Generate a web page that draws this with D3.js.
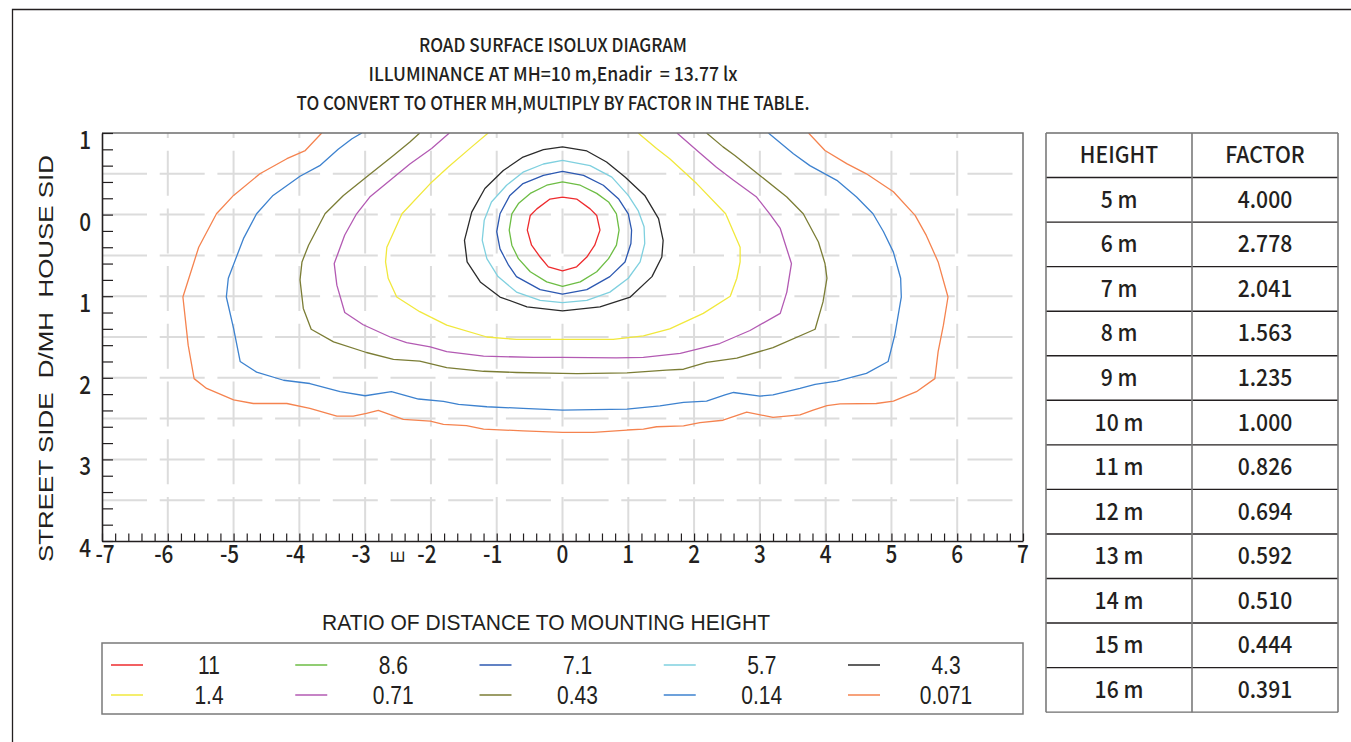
<!DOCTYPE html>
<html lang="en">
<head>
  <meta charset="utf-8">
  <title>Road surface isolux diagram</title>
  <script src="https://cdn.jsdelivr.net/npm/d3@7"></script>
  <style>
    body { margin: 0; background: #fff; }
    svg { display: block; }
    text { white-space: pre; }
    .cjk { font-family: "Noto Sans CJK SC", "Noto Sans", sans-serif; font-weight: 500; fill: #231f20; }
    .arial { font-family: "Liberation Sans", Arial, sans-serif; fill: #231f20; }
  </style>
</head>
<body>
  <svg id="chart" width="1351" height="742"></svg>

  <script>
    // title lines
    const titleLines = [
      "ROAD SURFACE ISOLUX DIAGRAM",
      "ILLUMINANCE AT MH=10 m,Enadir  = 13.77 lx",
      "TO CONVERT TO OTHER MH,MULTIPLY BY FACTOR IN THE TABLE."
    ]

    // axis ticks (D/MH)
    const xTicks = [-7, -6, -5, -4, -3, -2, -1, 0, 1, 2, 3, 4, 5, 6, 7]
    const yTicks = [-1, 0, 1, 2, 3, 4]

    // isolux levels, in legend order
    const levels = ["11", "8.6", "7.1", "5.7", "4.3", "1.4", "0.71", "0.43", "0.14", "0.071"]
    const levelColors = ["#ee2b2e", "#6dbd44", "#2c58b1", "#7fd0df", "#2b2b2b",
                         "#f1e83c", "#b35ab3", "#7b7d35", "#3d82cf", "#f5834f"]

    // contour points [x D/MH, y D/MH]
    const contour11 = [[0,-0.215],[-0.19,-0.19],[-0.39,-0.07],[-0.49,0.01],[-0.535,0.19],[-0.47,0.375],[-0.34,0.52],[-0.215,0.64],[0,0.69],[0.215,0.64],[0.37,0.52],[0.49,0.375],[0.57,0.19],[0.52,0.01],[0.42,-0.07],[0.215,-0.19]]
    const contour86 = [[0,-0.40],[-0.24,-0.36],[-0.49,-0.26],[-0.67,-0.135],[-0.77,-0.01],[-0.81,0.19],[-0.77,0.375],[-0.67,0.54],[-0.49,0.70],[-0.24,0.825],[0,0.88],[0.27,0.825],[0.52,0.70],[0.70,0.54],[0.82,0.375],[0.86,0.19],[0.82,-0.01],[0.70,-0.155],[0.52,-0.26],[0.27,-0.36]]
    const contour71 = [[0,-0.53],[-0.29,-0.48],[-0.60,-0.38],[-0.80,-0.235],[-0.95,-0.01],[-1.0,0.21],[-0.95,0.42],[-0.82,0.62],[-0.70,0.76],[-0.34,0.92],[0,0.975],[0.37,0.92],[0.72,0.76],[0.95,0.58],[1.04,0.355],[1.05,0.19],[1.0,-0.01],[0.85,-0.195],[0.62,-0.36],[0.32,-0.48]]
    const contour57 = [[0,-0.665],[-0.29,-0.62],[-0.60,-0.52],[-0.85,-0.36],[-1.08,-0.155],[-1.19,0.07],[-1.22,0.315],[-1.15,0.54],[-0.98,0.76],[-0.70,0.95],[-0.34,1.05],[0,1.08],[0.37,1.05],[0.72,0.95],[1.0,0.78],[1.18,0.58],[1.25,0.355],[1.24,0.15],[1.15,-0.05],[1.0,-0.235],[0.75,-0.46],[0.42,-0.60]]
    const contour43 = [[0,-0.83],[-0.29,-0.795],[-0.60,-0.705],[-0.90,-0.54],[-1.18,-0.32],[-1.38,-0.03],[-1.49,0.315],[-1.45,0.58],[-1.25,0.825],[-0.95,1.01],[-0.54,1.13],[0,1.18],[0.57,1.13],[1.03,1.01],[1.36,0.76],[1.51,0.52],[1.53,0.315],[1.46,0.05],[1.25,-0.235],[0.95,-0.46],[0.67,-0.645],[0.37,-0.78]]
    const contour14 = [[-1.13,-1.0],[-1.38,-0.83],[-1.74,-0.58],[-2.01,-0.38],[-2.44,-0.01],[-2.67,0.40],[-2.69,0.58],[-2.65,0.78],[-2.52,1.01],[-2.17,1.19],[-1.76,1.355],[-1.15,1.50],[-0.70,1.53],[0,1.53],[0.77,1.53],[1.23,1.485],[1.63,1.40],[2.14,1.21],[2.55,1.0],[2.65,0.78],[2.70,0.58],[2.70,0.40],[2.48,-0.01],[2.04,-0.38],[1.63,-0.685],[1.43,-0.81],[1.15,-1.0]]
    const contour071 = [[-1.72,-1.0],[-1.99,-0.81],[-2.32,-0.62],[-2.62,-0.42],[-2.93,-0.215],[-3.13,-0.01],[-3.31,0.25],[-3.47,0.60],[-3.43,0.865],[-3.31,1.20],[-3.03,1.35],[-2.62,1.50],[-2.37,1.57],[-2.01,1.62],[-1.76,1.68],[-1.20,1.735],[-0.44,1.75],[0,1.75],[0.82,1.755],[1.23,1.75],[1.79,1.70],[2.39,1.58],[2.85,1.42],[3.31,1.21],[3.41,0.95],[3.48,0.60],[3.31,0.17],[3.15,-0.01],[2.95,-0.215],[2.60,-0.42],[2.34,-0.58],[2.04,-0.79],[1.74,-1.0]]
    const contour043 = [[-2.17,-1.0],[-2.32,-0.89],[-2.57,-0.725],[-2.98,-0.46],[-3.33,-0.235],[-3.61,-0.01],[-3.86,0.375],[-3.96,0.58],[-3.99,0.80],[-3.94,1.15],[-3.82,1.405],[-3.48,1.56],[-2.98,1.69],[-2.57,1.775],[-2.17,1.795],[-1.76,1.875],[-1.20,1.92],[-0.70,1.935],[0,1.945],[0.22,1.95],[0.98,1.94],[1.58,1.905],[1.84,1.895],[2.19,1.81],[2.65,1.76],[3.20,1.63],[3.84,1.405],[3.96,1.07],[4.02,0.78],[3.99,0.60],[3.89,0.335],[3.66,-0.01],[3.41,-0.215],[3.0,-0.48],[2.62,-0.725],[2.44,-0.83],[2.19,-1.0]]
    const contour014 = [[-3.05,-1.0],[-3.20,-0.93],[-3.41,-0.80],[-3.69,-0.60],[-3.99,-0.47],[-4.40,-0.235],[-4.65,-0.01],[-4.85,0.295],[-5.08,0.78],[-5.11,1.01],[-5.0,1.395],[-4.90,1.80],[-4.65,1.93],[-4.24,2.03],[-3.84,2.07],[-3.38,2.17],[-3.0,2.22],[-2.60,2.17],[-2.19,2.26],[-1.81,2.29],[-1.58,2.325],[-1.15,2.355],[-0.60,2.375],[0,2.395],[0.47,2.39],[0.98,2.385],[1.48,2.345],[1.84,2.30],[2.19,2.285],[2.47,2.21],[2.60,2.18],[3.0,2.225],[3.20,2.21],[3.61,2.13],[3.84,2.08],[4.17,2.04],[4.62,1.945],[4.95,1.80],[5.05,1.48],[5.15,1.01],[5.14,0.78],[5.03,0.46],[4.88,0.21],[4.72,-0.01],[4.47,-0.215],[4.17,-0.42],[3.76,-0.60],[3.51,-0.745],[3.13,-1.0]]
    const contour0071 = [[-3.66,-1.0],[-3.91,-0.785],[-4.19,-0.685],[-4.60,-0.50],[-5.0,-0.235],[-5.26,-0.01],[-5.53,0.40],[-5.77,1.01],[-5.69,1.60],[-5.60,2.01],[-5.41,2.13],[-5.0,2.27],[-4.70,2.315],[-4.19,2.315],[-3.84,2.375],[-3.43,2.47],[-3.18,2.47],[-2.98,2.435],[-2.80,2.40],[-2.62,2.45],[-2.42,2.51],[-2.01,2.53],[-1.81,2.57],[-1.46,2.585],[-1.20,2.63],[-0.60,2.65],[0,2.67],[0.47,2.67],[0.98,2.64],[1.23,2.63],[1.43,2.60],[1.84,2.59],[2.09,2.55],[2.44,2.52],[2.80,2.42],[3.20,2.485],[3.61,2.455],[3.81,2.395],[4.02,2.34],[4.22,2.32],[4.77,2.315],[5.03,2.285],[5.38,2.17],[5.66,2.01],[5.71,1.68],[5.79,1.355],[5.86,1.01],[5.71,0.58],[5.53,0.255],[5.36,0.01],[5.03,-0.28],[4.62,-0.50],[4.32,-0.625],[3.99,-0.785],[3.74,-1.0]]

    const contours = [contour11, contour86, contour71, contour57, contour43,
                      contour14, contour071, contour043, contour014, contour0071]
    const closedContour = [true, true, true, true, true, false, false, false, false, false]

    // conversion table
    const heights = ["5 m", "6 m", "7 m", "8 m", "9 m", "10 m", "11 m", "12 m", "13 m", "14 m", "15 m", "16 m"]
    const factors = ["4.000", "2.778", "2.041", "1.563", "1.235", "1.000", "0.826", "0.694", "0.592", "0.510", "0.444", "0.391"]

    const svg = d3.select("#chart")
    const plot = { left: 102, right: 1023, top: 133, bottom: 541 }

    const x = d3.scaleLinear().domain([-7, 7]).range([plot.left, plot.right])
    const y = d3.scaleLinear().domain([-1, 4]).range([plot.top, plot.bottom])

    // squeezed text helper (the original font is a condensed one)
    const squeezed = function (parent, px, py, str, opts) {
      const o = Object.assign({ size: 24, sx: 0.85, anchor: "middle", cls: "cjk" }, opts)
      return parent.append("g")
        .attr("transform", `translate(${px},${py})`)
        .append("text")
        .attr("class", o.cls)
        .attr("transform", `scale(${o.sx},1)`)
        .attr("text-anchor", o.anchor)
        .attr("font-size", o.size)
        .text(str)
    }

    // page frame
    svg.append("path")
      .attr("d", "M12.5,742 V9.5 H1351")
      .attr("fill", "none").attr("stroke", "#231f20").attr("stroke-width", 1.3)

    // titles
    const titleWidths = [268, 369, 513]
    titleLines.forEach(function (t, i) {
      svg.append("text")
        .attr("class", "cjk")
        .attr("x", 553).attr("y", 52 + i * 29)
        .attr("text-anchor", "middle")
        .attr("font-size", 19)
        .attr("textLength", titleWidths[i])
        .attr("lengthAdjust", "spacingAndGlyphs")
        .text(t)
    })

    // grid
    const grid = svg.append("g")
    grid.selectAll(".vg")
      .data(d3.range(-6, 7))
      .join("line")
      .attr("x1", d => x(d)).attr("x2", d => x(d))
      .attr("y1", plot.top).attr("y2", plot.bottom)
      .attr("stroke", "#dcdcdc").attr("stroke-width", 2)
      .attr("stroke-dasharray", "45,12.7").attr("stroke-dashoffset", 40)
    grid.selectAll(".hg")
      .data(d3.range(-0.5, 4, 0.5))
      .join("line")
      .attr("x1", plot.left).attr("x2", plot.right)
      .attr("y1", d => y(d)).attr("y2", d => y(d))
      .attr("stroke", "#dcdcdc").attr("stroke-width", 2)
      .attr("stroke-dasharray", "45,12.7")

    // contours
    svg.append("clipPath").attr("id", "clip")
      .append("rect")
      .attr("x", plot.left).attr("y", plot.top)
      .attr("width", plot.right - plot.left).attr("height", plot.bottom - plot.top)

    const lineOpen = d3.line().x(d => x(d[0])).y(d => y(d[1]))
    const lineClosed = d3.line().x(d => x(d[0])).y(d => y(d[1])).curve(d3.curveLinearClosed)

    svg.append("g").attr("clip-path", "url(#clip)")
      .selectAll("path")
      .data(contours)
      .join("path")
      .attr("d", (d, i) => closedContour[i] ? lineClosed(d) : lineOpen(d))
      .attr("fill", "none")
      .attr("stroke", (d, i) => levelColors[i])
      .attr("stroke-width", 1.3)
      .attr("stroke-linejoin", "round")

    // plot frame: grey top/right, dark axes
    svg.append("path")
      .attr("d", `M${plot.left},${plot.top} H${plot.right} V${plot.bottom}`)
      .attr("fill", "none").attr("stroke", "#6e6e6e").attr("stroke-width", 1.5)

    const minorX = d3.range(-7, 7.001, 0.2).map(v => +v.toFixed(2))
    const minorY = d3.range(-1, 4.001, 0.2).map(v => +v.toFixed(2))

    svg.append("g")
      .attr("transform", `translate(0,${plot.bottom})`)
      .call(d3.axisBottom(x).tickValues(minorX).tickSize(-7.5).tickSizeOuter(0).tickFormat(""))
    svg.append("g")
      .attr("transform", `translate(${plot.left},0)`)
      .call(d3.axisLeft(y).tickValues(minorY).tickSize(-11).tickSizeOuter(0).tickFormat(""))
    svg.selectAll(".domain").attr("stroke", "#231f20").attr("stroke-width", 1.6)
    svg.selectAll(".tick line").attr("stroke", "#231f20").attr("stroke-width", 1.2)

    // tick labels
    xTicks.forEach(function (v) {
      let dx = v < 0 ? -4 : 0
      if (v === -7) dx = 3
      squeezed(svg, x(v) + dx, plot.bottom + 22, String(v), { size: 25, sx: 0.83 })
    })
    yTicks.forEach(function (v) {
      squeezed(svg, 91, y(v) + 16, String(Math.abs(v)), { size: 25, sx: 0.83, anchor: "end" })
    })

    // stray "E" mark under the x axis
    svg.append("text")
      .attr("class", "arial")
      .attr("transform", "translate(404,557) rotate(-90)")
      .attr("text-anchor", "middle")
      .attr("font-size", 19)
      .text("E")

    // y axis title
    svg.append("text")
      .attr("class", "arial")
      .attr("transform", "translate(53,562) rotate(-90)")
      .attr("font-size", 21)
      .attr("textLength", 407)
      .attr("lengthAdjust", "spacingAndGlyphs")
      .text("STREET SIDE  D/MH  HOUSE SID")

    // legend
    svg.append("text")
      .attr("class", "arial")
      .attr("x", 546).attr("y", 630)
      .attr("text-anchor", "middle")
      .attr("font-size", 22)
      .attr("textLength", 448)
      .attr("lengthAdjust", "spacingAndGlyphs")
      .text("RATIO OF DISTANCE TO MOUNTING HEIGHT")

    svg.append("rect")
      .attr("x", 102).attr("y", 643).attr("width", 921).attr("height", 71)
      .attr("fill", "none").attr("stroke", "#7a7a7a").attr("stroke-width", 1.5)

    const legCol = d3.scaleLinear().domain([0, 4]).range([111, 848])
    const legRow = d3.scaleLinear().domain([0, 1]).range([665, 695])
    const legend = svg.append("g")
    levels.forEach(function (lv, i) {
      const c = i % 5, r = Math.floor(i / 5)
      legend.append("line")
        .attr("x1", legCol(c)).attr("x2", legCol(c) + 32)
        .attr("y1", legRow(r)).attr("y2", legRow(r))
        .attr("stroke", levelColors[i]).attr("stroke-width", 1.5)
      squeezed(legend, legCol(c) + 98, legRow(r) + 9, lv, { size: 25, sx: 0.84, cls: "arial" })
    })

    // factor table
    const tbl = { left: 1046, mid: 1192, right: 1338, top: 133 }
    const rowH = 44.55
    const rows = [["HEIGHT", "FACTOR"]].concat(heights.map((h, i) => [h, factors[i]]))
    const tg = svg.append("g")
    const tblBottom = tbl.top + rows.length * rowH

    tg.selectAll(".hl")
      .data(d3.range(rows.length + 1))
      .join("line")
      .attr("x1", tbl.left).attr("x2", tbl.right)
      .attr("y1", d => tbl.top + d * rowH).attr("y2", d => tbl.top + d * rowH)
      .attr("stroke", (d, i) => (i === 0 || i === rows.length) ? "#6e6e6e" : "#231f20")
      .attr("stroke-width", 1.4)
    tg.selectAll(".vl")
      .data([tbl.left, tbl.mid, tbl.right])
      .join("line")
      .attr("x1", d => d).attr("x2", d => d)
      .attr("y1", tbl.top).attr("y2", tblBottom)
      .attr("stroke", "#7a7a7a").attr("stroke-width", 1.6)

    rows.forEach(function (r, i) {
      const cy = tbl.top + i * rowH + rowH / 2 + 8
      squeezed(tg, (tbl.left + tbl.mid) / 2, cy, r[0], { size: 23, sx: 0.92 })
      squeezed(tg, (tbl.mid + tbl.right) / 2, cy, r[1], { size: 23, sx: 0.92 })
    })
  </script>
</body>
</html>
